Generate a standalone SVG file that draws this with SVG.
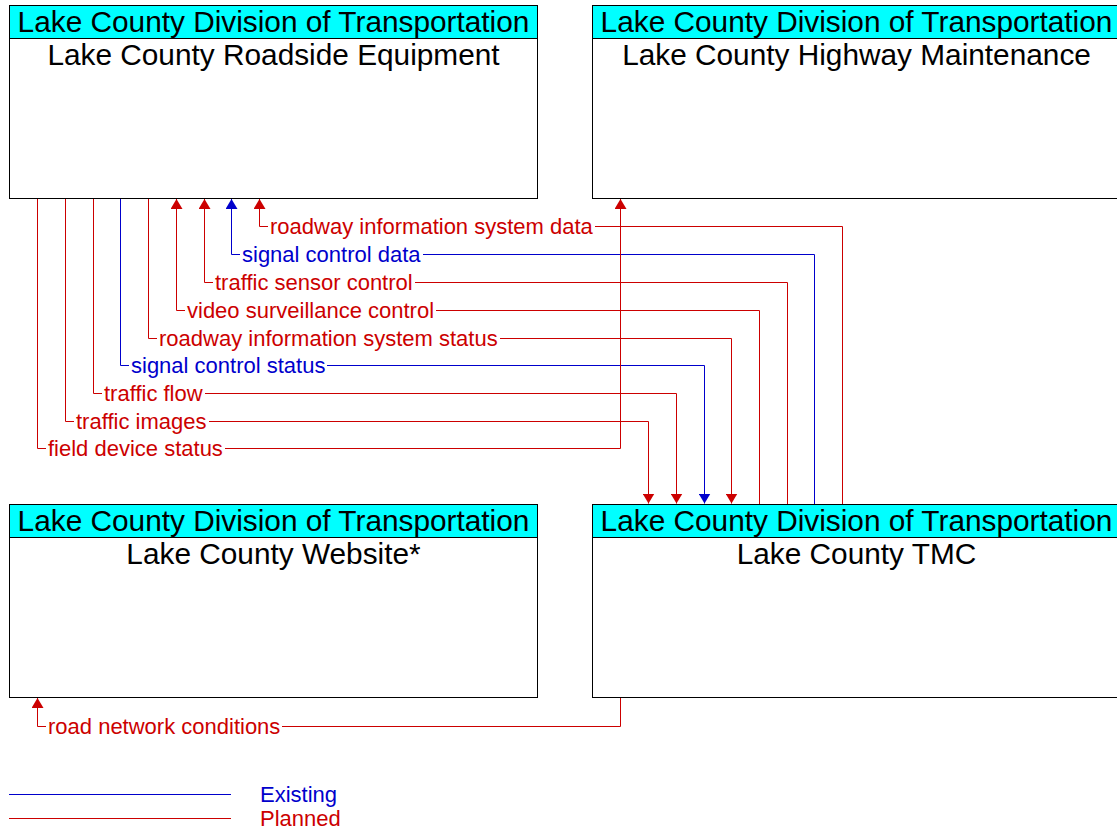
<svg xmlns="http://www.w3.org/2000/svg" width="1117" height="830" viewBox="0 0 1117 830">
<style>
.box{fill:#fff;stroke:#000;stroke-width:1}
.hdr{fill:#00ffff;stroke:#000;stroke-width:1}
.bt{font-family:"Liberation Sans",Arial,sans-serif;font-size:29.8px;fill:#000;text-anchor:middle}
.lbl{font-family:"Liberation Sans",Arial,sans-serif;font-size:22px}
.r{fill:none;stroke:#cc0000;stroke-width:1}
.b{fill:none;stroke:#0000cc;stroke-width:1}
.rt{fill:#cc0000}
.btx{fill:#0000cc}
</style>
<defs>
<marker id="ar" viewBox="0 0 10 12" refX="10" refY="6" markerWidth="10" markerHeight="12" markerUnits="userSpaceOnUse" orient="auto"><path d="M0,0 L10,6 L0,12 Z" fill="#cc0000"/></marker>
<marker id="ab" viewBox="0 0 10 12" refX="10" refY="6" markerWidth="10" markerHeight="12" markerUnits="userSpaceOnUse" orient="auto"><path d="M0,0 L10,6 L0,12 Z" fill="#0000cc"/></marker>
</defs>
<rect width="1117" height="830" fill="#fff"/>
<g id="node-roadside">
<rect class="box" x="9.5" y="5.5" width="528" height="193"/>
<rect class="hdr" x="9.5" y="5.5" width="528" height="33"/>
<text class="bt" x="273.5" y="32">Lake County Division of Transportation</text>
<text class="bt" x="273.5" y="65">Lake County Roadside Equipment</text>
</g>
<g id="node-highway">
<rect class="box" x="592.5" y="5.5" width="528" height="193"/>
<rect class="hdr" x="592.5" y="5.5" width="528" height="33"/>
<text class="bt" x="856.5" y="32">Lake County Division of Transportation</text>
<text class="bt" x="856.5" y="65">Lake County Highway Maintenance</text>
</g>
<g id="node-website">
<rect class="box" x="9.5" y="504.5" width="528" height="193"/>
<rect class="hdr" x="9.5" y="504.5" width="528" height="33"/>
<text class="bt" x="273.5" y="531">Lake County Division of Transportation</text>
<text class="bt" x="273.5" y="564">Lake County Website*</text>
</g>
<g id="node-tmc">
<rect class="box" x="592.5" y="504.5" width="528" height="193"/>
<rect class="hdr" x="592.5" y="504.5" width="528" height="33"/>
<text class="bt" x="856.5" y="531">Lake County Division of Transportation</text>
<text class="bt" x="856.5" y="564">Lake County TMC</text>
</g>
<g id="connectors">
<path class="r" d="M842.5,504 V226.5 H595 M268,226.5 H259.5 V199" marker-end="url(#ar)"/>
<text class="lbl rt" x="270" y="234">roadway information system data</text>
<path class="b" d="M814.5,504 V254.5 H423 M240,254.5 H231.5 V199" marker-end="url(#ab)"/>
<text class="lbl btx" x="242" y="262">signal control data</text>
<path class="r" d="M787.5,504 V282.5 H415 M213,282.5 H204.5 V199" marker-end="url(#ar)"/>
<text class="lbl rt" x="215" y="290">traffic sensor control</text>
<path class="r" d="M759.5,504 V310.5 H436 M185,310.5 H176.5 V199" marker-end="url(#ar)"/>
<text class="lbl rt" x="187" y="318">video surveillance control</text>
<path class="r" d="M148.5,199 V338.5 H157 M500,338.5 H731.5 V503.5" marker-end="url(#ar)"/>
<text class="lbl rt" x="159" y="346">roadway information system status</text>
<path class="b" d="M120.5,199 V365.5 H129 M327,365.5 H704.5 V503.5" marker-end="url(#ab)"/>
<text class="lbl btx" x="131" y="373">signal control status</text>
<path class="r" d="M93.5,199 V393.5 H102 M205,393.5 H676.5 V503.5" marker-end="url(#ar)"/>
<text class="lbl rt" x="104" y="401">traffic flow</text>
<path class="r" d="M65.5,199 V421.5 H74 M209,421.5 H648.5 V503.5" marker-end="url(#ar)"/>
<text class="lbl rt" x="76" y="429">traffic images</text>
<path class="r" d="M37.5,199 V448.5 H46 M225,448.5 H620.5 V199" marker-end="url(#ar)"/>
<text class="lbl rt" x="48" y="456">field device status</text>
<path class="r" d="M620.5,698 V726.5 H282 M46,726.5 H37.5 V698" marker-end="url(#ar)"/>
<text class="lbl rt" x="48" y="734">road network conditions</text>
</g>
<g id="legend">
<line class="b" x1="9" y1="794.5" x2="231" y2="794.5"/>
<text class="lbl btx" x="260" y="802">Existing</text>
<line class="r" x1="9" y1="818.5" x2="231" y2="818.5"/>
<text class="lbl rt" x="260" y="826">Planned</text>
</g>
</svg>
